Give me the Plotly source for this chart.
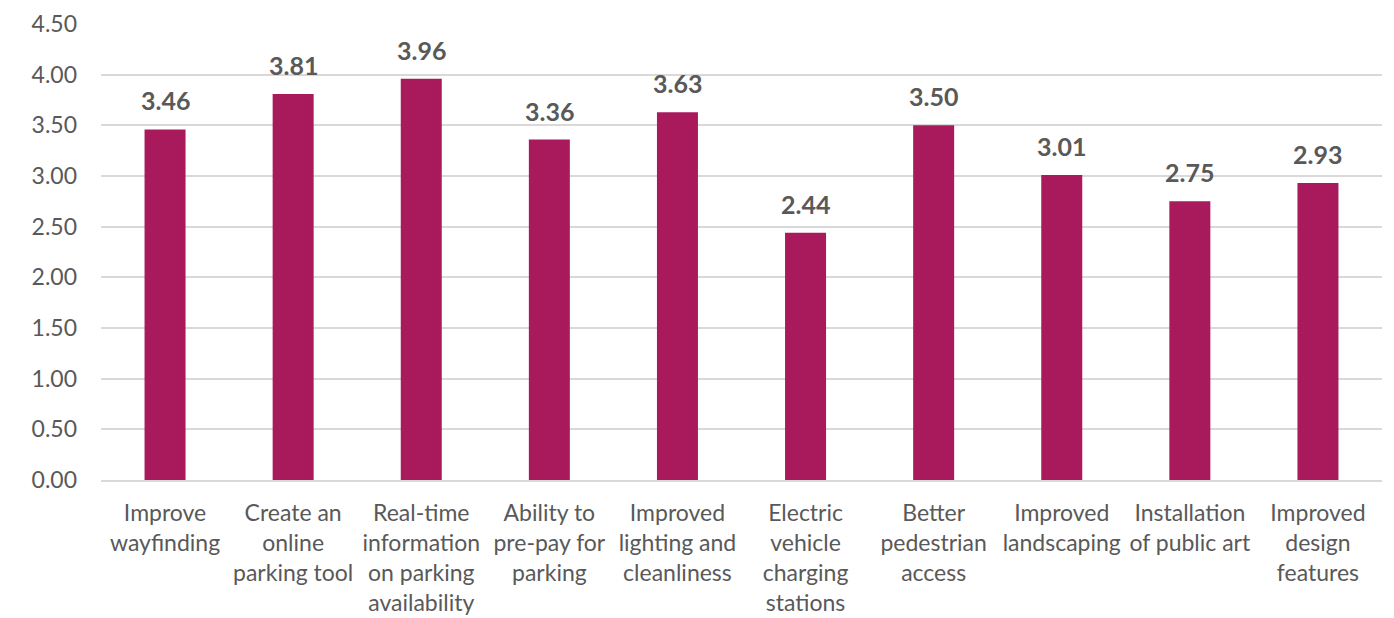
import plotly.graph_objects as go

categories = [
    "Improve<br>wayfinding",
    "Create an<br>online<br>parking tool",
    "Real-time<br>information<br>on parking<br>availability",
    "Ability to<br>pre-pay for<br>parking",
    "Improved<br>lighting and<br>cleanliness",
    "Electric<br>vehicle<br>charging<br>stations",
    "Better<br>pedestrian<br>access",
    "Improved<br>landscaping",
    "Installation<br>of public art",
    "Improved<br>design<br>features",
]
scores = [3.46, 3.81, 3.96, 3.36, 3.63, 2.44, 3.50, 3.01, 2.75, 2.93]
y_ticks = [0, 0.5, 1.0, 1.5, 2.0, 2.5, 3.0, 3.5, 4.0, 4.5]

FONT = "Lato, Open Sans, sans-serif"
GREY = "#595959"

fig = go.Figure(
    go.Bar(
        x=categories,
        y=scores,
        marker=dict(color="#A91A5C", line=dict(width=0)),
        hoverinfo="x+y",
    )
)

# value labels above each bar
for cat, val in zip(categories, scores):
    fig.add_annotation(
        x=cat, y=val, text=f"<b>{val:.2f}</b>", showarrow=False,
        yanchor="bottom", yshift=12,
        font=dict(family=FONT, size=25, color=GREY),
    )

fig.update_layout(
    width=1394, height=618,
    margin=dict(l=101, r=12, t=24, b=138),
    plot_bgcolor="white", paper_bgcolor="white",
    bargap=0.68,
    showlegend=False,
    font=dict(family=FONT, color=GREY),
)
fig.update_xaxes(
    showgrid=False, showline=True, linecolor="#D9D9D9", linewidth=1.5,
    ticks="", tickfont=dict(family=FONT, size=23, color=GREY),
    tickangle=0, ticklabelstandoff=12, automargin=False,
)
fig.update_yaxes(
    range=[0, 4.5], tickvals=y_ticks,
    ticktext=[f"{v:.2f}" for v in y_ticks],
    showgrid=True, gridcolor="#D9D9D9", gridwidth=1.5,
    zeroline=False, showline=False, ticks="",
    tickfont=dict(family=FONT, size=23, color=GREY),
    ticklabelstandoff=23, automargin=False,
)

fig.write_html("out.html")
